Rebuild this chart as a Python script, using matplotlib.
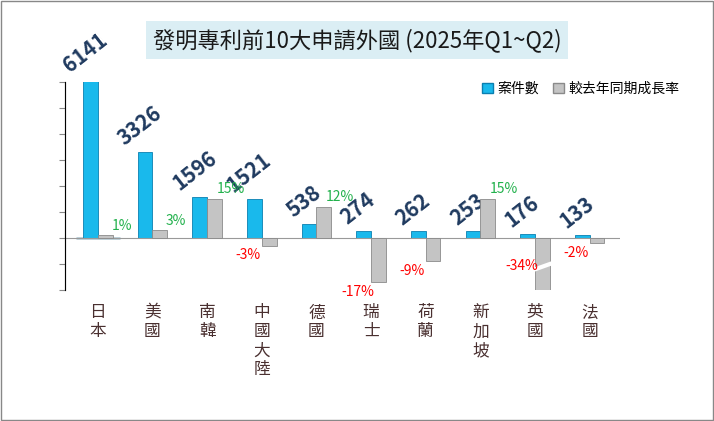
import matplotlib
matplotlib.use('Agg')
import matplotlib.pyplot as plt
import numpy as np
from matplotlib.patches import Rectangle

plt.rcParams['font.family'] = ['Noto Sans CJK TC', 'DejaVu Sans']

countries = ['日本', '美國', '南韓', '中國大陸', '德國', '瑞士', '荷蘭', '新加坡', '英國', '法國']
counts = [6141, 3326, 1596, 1521, 538, 274, 262, 253, 176, 133]
growth = [1, 3, 15, -3, 12, -17, -9, 15, -34, -2]

fig = plt.figure(figsize=(7.14, 4.21), dpi=100)
fig.patches.append(Rectangle((0.002, 0.002), 0.996, 0.996, transform=fig.transFigure,
                             fill=False, edgecolor='#888888', lw=1))

ax = fig.add_axes([0.091, 0.311, 0.777, 0.494])
ax2 = ax.twinx()
x = np.arange(len(countries))
w = 0.27

ax.bar(x - w / 2, counts, w, color='#19b9ec', edgecolor='#0a7fb0', lw=0.6, zorder=3)
ax2.bar(x + w / 2, growth, w, color='#c4c4c4', edgecolor='#8a8a8a', lw=0.6, zorder=3)

ax.set_ylim(-2000, 6000)
ax2.set_ylim(-20, 60)
ax.set_xlim(-0.6, len(countries) - 0.45)
ax.set_yticks(np.arange(-2000, 6001, 1000))
ax.set_yticklabels([])
ax2.set_yticks([])
ax.set_xticks([])
for a in (ax, ax2):
    for s in ('top', 'right', 'bottom'):
        a.spines[s].set_visible(False)
ax.spines['left'].set_color('#888888')
ax.tick_params(axis='y', length=4, color='#888888')
ax2.axhline(0, color='#999999', lw=0.8, zorder=2)

# break mark on the truncated bar
i_uk = growth.index(min(growth))
ax2.plot([i_uk + w / 2 - 0.2, i_uk + w / 2 + 0.2], [-12.5, -9.5], color='white', lw=3, zorder=4)

for i, c in enumerate(counts):
    ax.text(i - w / 2 - 0.1, c + 100, str(c), rotation=38, ha='center', va='bottom',
            fontsize=15, fontweight='bold', color='#1f3a5f', zorder=5, clip_on=False)
for i, g in enumerate(growth):
    if g > 0:
        ax2.text(i + w / 2 + 0.3, g + 1, f'{g}%', ha='center', va='bottom', fontsize=10,
                 color='#22b14c', zorder=6)
    else:
        y = g - 1 if g > -20 else -8
        ax2.text(i + w / 2 - 0.38, y, f'{g}%', ha='center', va='top', fontsize=10,
                 color='#ff0000', zorder=6)

for i, name in enumerate(countries):
    ax.text(i, -2550, '\n'.join(name), ha='center', va='top', fontsize=12,
            color='#4a3030', linespacing=1.15, clip_on=False)

# legend
ax.bar([0], [0], color='#19b9ec', edgecolor='#0a7fb0', label='案件數')
ax.bar([0], [0], color='#c4c4c4', edgecolor='#8a8a8a', label='較去年同期成長率')
ax.legend(loc='upper right', bbox_to_anchor=(1.13, 1.06), frameon=False, ncol=2,
          fontsize=10, handlelength=0.8, handletextpad=0.3, columnspacing=1.0)

fig.text(0.5, 0.905, '發明專利前10大申請外國 (2025年Q1~Q2)', ha='center', va='center',
         fontsize=16, color='#1a1a1a',
         bbox=dict(boxstyle='square,pad=0.3', facecolor='#dbeef4', edgecolor='none'))

fig.savefig('out.png', dpi=100)
